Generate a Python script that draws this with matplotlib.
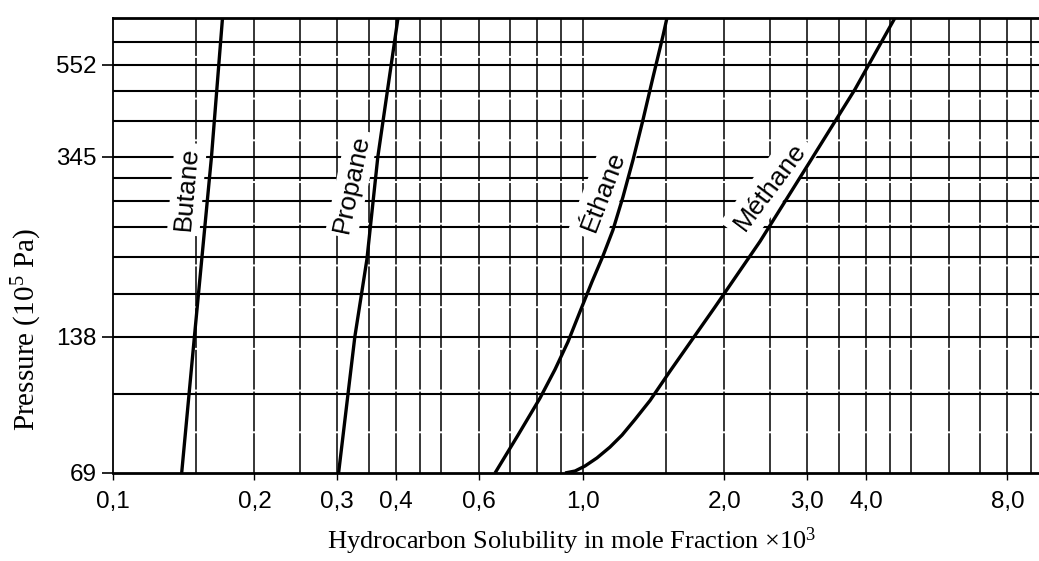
import matplotlib
matplotlib.use("Agg")
import matplotlib.pyplot as plt

plt.rcParams['mathtext.fontset'] = 'custom'
plt.rcParams['mathtext.rm'] = 'Liberation Serif'
plt.rcParams['mathtext.it'] = 'Liberation Serif:italic'

# solubility (mole fraction x1e3) against pressure (1e5 Pa)
butaneP = [69, 138, 345, 700]
butaneX = [0.140, 0.149, 0.162, 0.171]

propaneP = [69, 138, 205, 345, 700]
propaneX = [0.302, 0.327, 0.347, 0.366, 0.404]

ethaneP = [69, 83.7, 101.0, 116.9, 134.5, 156.7, 182.6, 208.4, 237.7, 281.0,
           340.0, 417.0, 517.2, 639.4, 700]
ethaneX = [0.650, 0.7275, 0.810, 0.872, 0.929, 0.985, 1.045, 1.103, 1.158, 1.216,
           1.278, 1.342, 1.409, 1.480, 1.509]

methaneP = [69, 69.7, 71.5, 74.5, 78.7, 83.7, 90.6, 99.8, 115.8, 160.6,
            224.4, 336.9, 486.7, 700]
methaneX = [0.916, 0.962, 1.010, 1.071, 1.141, 1.211, 1.290, 1.389, 1.531, 1.909,
            2.381, 3.041, 3.791, 4.61]

xTicks = [0.1, 0.2, 0.3, 0.4, 0.6, 1.0, 2.0, 3.0, 4.0, 8.0]
xLabs = ["0,1", "0,2", "0,3", "0,4", "0,6", "1,0", "2,0", "3,0", "4,0", "8,0"]
yTicks = [69, 138, 345, 552]

xGrid = [0.15, 0.2, 0.25, 0.3, 0.35, 0.4, 0.45, 0.5, 0.6, 0.7, 0.8, 0.9,
         1.0, 1.5, 2.0, 2.5, 3.0, 3.5, 4.0, 4.5, 5.0, 6.0, 7.0, 8.0, 9.0]
yGrid = [103, 138, 172, 207, 241, 276, 310, 345, 414, 483, 552, 620]

# curve names: text, x, y, angle, pad
names = [("Butane", 0.1437, 293, 85, 3), ("Propane", 0.3225, 301, 78, 3),
         ("Éthane", 1.103, 289, 69, 5), ("Méthane", 2.50, 296, 53, 5)]

W, H = 1039, 561
fig = plt.figure(figsize=(W/100, H/100), dpi=100)
ax = fig.add_axes([113/W, 88/H, 926/W, 455/H])
ax.set_xscale('log')
ax.set_yscale('log')
ax.set_xlim(0.1, 9.34)
ax.set_ylim(69, 700)

for x in xGrid:
    ax.axvline(x, color='k', lw=1.1, ls=(0, (26, 1.3)), zorder=1)
for y in yGrid:
    ax.axhline(y, color='k', lw=1.5, zorder=1)

for P, X in [(butaneP, butaneX), (propaneP, propaneX),
             (ethaneP, ethaneX), (methaneP, methaneX)]:
    ax.plot(X, P, color='k', lw=2.4, zorder=4, solid_capstyle='butt')

for txt, x, y, r, pd in names:
    ax.text(x, y, txt, rotation=r, rotation_mode='anchor', ha='center', va='center',
            fontsize=19, family='Liberation Sans', zorder=3,
            bbox=dict(facecolor='white', edgecolor='none', pad=pd))

ax.spines['right'].set_visible(False)
ax.spines['left'].set_linewidth(1.3)
ax.spines['bottom'].set_linewidth(2.0)
ax.spines['top'].set_linewidth(2.0)

ax.xaxis.set_minor_locator(matplotlib.ticker.NullLocator())
ax.yaxis.set_minor_locator(matplotlib.ticker.NullLocator())
ax.set_xticks(xTicks)
ax.set_xticklabels(xLabs)
ax.set_yticks(yTicks)
ax.set_yticklabels([str(v) for v in yTicks])
ax.tick_params(axis='x', length=5, width=1, pad=8, labelsize=17.5)
ax.tick_params(axis='y', length=8, width=1.2, pad=4, labelsize=17.5)
for t in ax.get_xticklabels() + ax.get_yticklabels():
    t.set_family('Liberation Sans')

fig.text(27/W, 1 - 330/H, "Pressure (10$^5$ Pa)", rotation=90, ha='center', va='center',
         fontsize=21, family='Liberation Serif')
fig.text(572/W, 1 - 541/H, "Hydrocarbon Solubility in mole Fraction ×10$^3$",
         ha='center', va='center', fontsize=19, family='Liberation Serif')

fig.savefig("out.png", dpi=100)
